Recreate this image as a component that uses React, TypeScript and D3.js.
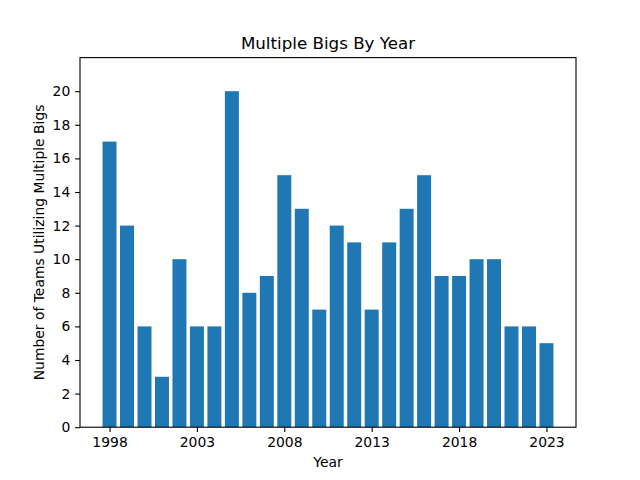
import React, { useEffect, useRef } from 'react';
import * as d3 from 'd3';

const years: number[] = [
  1998, 1999, 2000, 2001, 2002, 2003, 2004, 2005, 2006, 2007, 2008, 2009, 2010,
  2011, 2012, 2013, 2014, 2015, 2016, 2017, 2018, 2019, 2020, 2021, 2022, 2023,
];
const teams: number[] = [
  17, 12, 6, 3, 10, 6, 6, 20, 8, 9, 15, 13, 7,
  12, 11, 7, 11, 13, 15, 9, 9, 10, 10, 6, 6, 5,
];
const xTicks: number[] = [1998, 2003, 2008, 2013, 2018, 2023];
const yTicks: number[] = [0, 2, 4, 6, 8, 10, 12, 14, 16, 18, 20];

const W = 640;
const H = 480;
const FONT = 'DejaVu Sans, sans-serif';

const App: React.FC = () => {
  const svgRef = useRef<SVGSVGElement>(null);

  useEffect(() => {
    if (!svgRef.current) return;
    const svg = d3.select(svgRef.current);
    svg.selectAll('*').remove();

    // matplotlib default subplot params
    const left = 0.125 * W;
    const right = 0.9 * W;
    const top = H - 0.88 * H;
    const bottom = H - 0.11 * H;

    const barW = 0.8;
    const lo = years[0] - barW / 2;
    const hi = years[years.length - 1] + barW / 2;
    const pad = (hi - lo) * 0.05;

    const x = d3.scaleLinear().domain([lo - pad, hi + pad]).range([left, right]);
    const y = d3.scaleLinear().domain([0, 22]).range([bottom, top]);

    svg.append('rect').attr('width', W).attr('height', H).attr('fill', '#fff');

    svg.append('g')
      .selectAll('rect')
      .data(years)
      .enter()
      .append('rect')
      .attr('x', d => x(d - barW / 2))
      .attr('width', x(barW) - x(0))
      .attr('y', (d, i) => y(teams[i]))
      .attr('height', (d, i) => y(0) - y(teams[i]))
      .attr('fill', '#1f77b4');

    const tickLen = 4.86;

    const xAxis = svg.append('g')
      .attr('transform', `translate(0,${bottom})`)
      .call(d3.axisBottom(x).tickValues(xTicks).tickFormat(d3.format('d')).tickSizeOuter(0).tickSize(tickLen).tickPadding(4.86));
    xAxis.select('.domain').remove();
    xAxis.selectAll('text').attr('font-size', 13.9).attr('font-family', FONT).attr('fill', '#000');
    xAxis.selectAll('line').attr('stroke', '#000').attr('stroke-width', 1.1);

    const yAxis = svg.append('g')
      .attr('transform', `translate(${left},0)`)
      .call(d3.axisLeft(y).tickValues(yTicks).tickSizeOuter(0).tickSize(tickLen).tickPadding(4.86));
    yAxis.select('.domain').remove();
    yAxis.selectAll('text').attr('font-size', 13.9).attr('font-family', FONT).attr('fill', '#000');
    yAxis.selectAll('line').attr('stroke', '#000').attr('stroke-width', 1.1);

    // axes frame
    svg.append('rect')
      .attr('x', left)
      .attr('y', top)
      .attr('width', right - left)
      .attr('height', bottom - top)
      .attr('fill', 'none')
      .attr('stroke', '#000')
      .attr('stroke-width', 1.1);

    svg.append('text')
      .attr('x', (left + right) / 2)
      .attr('y', top - 8.3)
      .attr('text-anchor', 'middle')
      .attr('font-family', FONT)
      .attr('font-size', 16.7)
      .text('Multiple Bigs By Year');

    svg.append('text')
      .attr('x', (left + right) / 2)
      .attr('y', 467)
      .attr('text-anchor', 'middle')
      .attr('font-family', FONT)
      .attr('font-size', 13.9)
      .text('Year');

    svg.append('text')
      .attr('transform', `translate(44,${(top + bottom) / 2}) rotate(-90)`)
      .attr('text-anchor', 'middle')
      .attr('font-family', FONT)
      .attr('font-size', 13.9)
      .text('Number of Teams Utilizing Multiple Bigs');
  }, []);

  return (
    <div style={{ position: 'absolute', left: 0, top: 0 }}>
      <svg ref={svgRef} width={W} height={H} style={{ display: 'block' }} />
    </div>
  );
};

export default App;
